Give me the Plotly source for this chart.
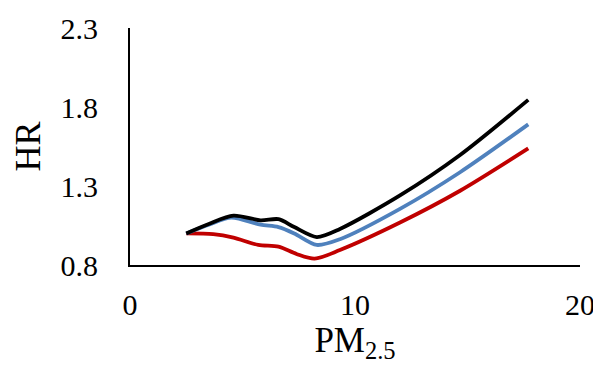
import plotly.graph_objects as go

x_black = [2.5, 3.5, 4.6, 5.8, 6.6, 7.3, 8.3, 9.33, 12.0, 14.67, 17.7]
y_black = [1.00, 1.06, 1.112, 1.083, 1.09, 1.04, 0.977, 1.028, 1.24, 1.496, 1.845]

x_blue = [2.5, 3.5, 4.5, 5.8, 6.6, 7.3, 8.3, 9.33, 12.0, 14.67, 17.7]
y_blue = [1.00, 1.055, 1.10, 1.055, 1.04, 1.00, 0.927, 0.963, 1.155, 1.387, 1.69]

x_red = [2.5, 3.7, 4.6, 5.7, 6.6, 7.4, 8.2, 9.33, 12.0, 14.67, 17.7]
y_red = [1.00, 0.995, 0.973, 0.927, 0.916, 0.87, 0.84, 0.895, 1.069, 1.27, 1.538]

x_ticks = [0, 10, 20]
y_ticks = [0.8, 1.3, 1.8, 2.3]

fig = go.Figure()
for xs, ys, col in [(x_red, y_red, "#C00000"), (x_blue, y_blue, "#4F81BD"), (x_black, y_black, "#000000")]:
    fig.add_trace(go.Scatter(x=xs, y=ys, mode="lines",
                             line=dict(color=col, width=3.8, shape="spline", smoothing=0.8),
                             showlegend=False, hoverinfo="skip"))

font_family = "Liberation Serif"
# page body has an 8px default margin, so the figure is drawn 8px in from the corner
fig.update_layout(
    width=593, height=365,
    margin=dict(l=122, r=21, t=20, b=108),
    paper_bgcolor="white", plot_bgcolor="white",
    font=dict(family=font_family, color="#000000"),
)
fig.update_xaxes(range=[0, 20], tickvals=x_ticks, ticktext=[str(v) for v in x_ticks],
                 showgrid=False, zeroline=False, showline=True, linecolor="#000000", linewidth=2,
                 ticks="", tickfont=dict(size=30), ticklabelstandoff=12, automargin=False,
                 title=dict(text="PM<sub>2.5</sub>", font=dict(size=35), standoff=0))
fig.update_yaxes(range=[0.8, 2.3], tickvals=y_ticks, ticktext=["0.8", "1.3", "1.8", "2.3"],
                 showgrid=False, zeroline=False, showline=True, linecolor="#000000", linewidth=2,
                 ticks="", tickfont=dict(size=30), ticklabelstandoff=24, automargin=False,
                 title=dict(text="HR", font=dict(size=36), standoff=10))

fig.write_html("out.html")
